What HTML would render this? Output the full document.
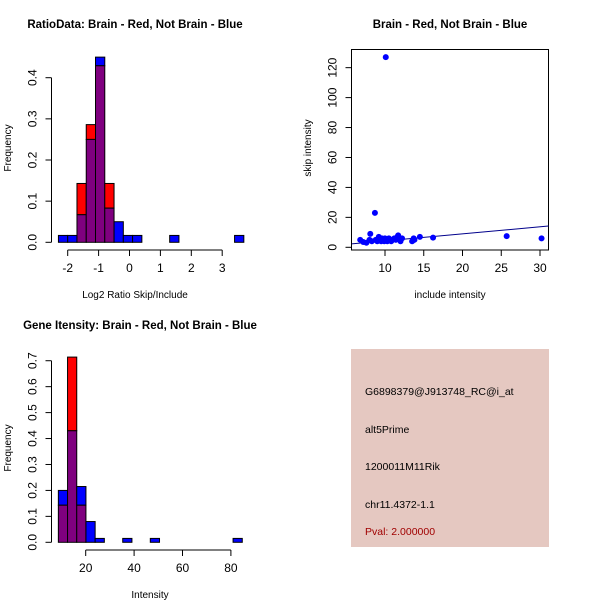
<!DOCTYPE html>
<html><head><meta charset="utf-8"><style>
body{margin:0;background:#fff}
svg{display:block;font-family:"Liberation Sans",sans-serif}
</style></head><body>
<svg id="c" width="600" height="600"></svg>
<script>
// Plot 1 data: log2 ratio histograms
const ratioBinStart = -2.3, ratioBinWidth = 0.3;
const ratioBlue = [0.0167,0.0167,0.067,0.25,0.45,0.083,0.05,0.0167,0.0167,0,0,0,0.0167,0,0,0,0,0,0,0.0167];
const ratioRed  = [0,0,0.143,0.286,0.429,0.143,0,0,0,0,0,0,0,0,0,0,0,0,0,0];
const ratioXTicks = [-2,-1,0,1,2,3];
const ratioYTicks = [0.0,0.1,0.2,0.3,0.4];
// Plot 2 data: scatter
const includeVals = [6.8,7.2,7.6,8,8.1,8.3,8.7,8.8,9,9.2,9.3,9.5,9.6,9.8,9.9,10,10.1,10.2,10.3,10.5,10.6,10.8,11,11.2,11.4,11.6,11.7,11.9,12,12.2,13.5,13.7,13.8,14.5,16.2,25.7,30.2];
const skipVals    = [5,3.5,3,5,9,4,23,5,4,7,5,4,6,5,4,6,127,5,4,6,5,4,5,6,5,7,8,5,4,6,4,6,5,7,6.5,7.5,6];
const fitLine = [-0.4,0.47]; // intercept, slope
const scatXTicks = [10,15,20,25,30];
const scatYTicks = [0,20,40,60,80,100,120];
// Plot 3 data: intensity histograms
const intBinStart = 8.7, intBinWidth = 3.8;
const intBlue = [0.2,0.43,0.215,0.08,0.015,0,0,0.015,0,0,0.015,0,0,0,0,0,0,0,0,0.015];
const intRed  = [0.143,0.714,0.143,0,0,0,0,0,0,0,0,0,0,0,0,0,0,0,0,0];
const intXTicks = [20,40,60,80];
const intYTicks = [0.0,0.1,0.2,0.3,0.4,0.5,0.6,0.7];

const NS="http://www.w3.org/2000/svg", svg=document.getElementById('c');
function mk(t,a,p){const e=document.createElementNS(NS,t);for(const k in a)e.setAttribute(k,a[k]);(p||svg).appendChild(e);return e;}
function txt(s,x,y,o,p){const e=mk('text',Object.assign({x:x,y:y,'font-size':12,'text-anchor':'middle',fill:'#000'},o||{}),p);e.textContent=s;return e;}

function hist(g,start,w,blue,red,sx,sy){
  for(let i=0;i<blue.length;i++){
    const x0=sx(start+i*w),x1=sx(start+(i+1)*w),b=blue[i],r=red[i],m=Math.min(b,r),M=Math.max(b,r);
    if(M<=0)continue;
    if(M>m){const e=mk('rect',{x:x0,y:sy(M),width:x1-x0,height:sy(m)-sy(M),fill:b>r?'#0000ff':'#ff0000',stroke:'#000','stroke-width':1},g);
      }
    if(m>0){const e=mk('rect',{x:x0,y:sy(m),width:x1-x0,height:sy(0)-sy(m),fill:'#7f007f',stroke:'#000','stroke-width':1},g);
      }
  }
}
function yaxis(g,ticks,sy,x,fmt){
  mk('line',{x1:x,x2:x,y1:sy(ticks[0]),y2:sy(ticks[ticks.length-1]),stroke:'#000'},g);
  ticks.forEach(t=>{mk('line',{x1:x-6,x2:x,y1:sy(t),y2:sy(t),stroke:'#000'},g);
    txt(fmt(t),0,0,{transform:`translate(${x-15},${sy(t)}) rotate(-90)`},g);});
}
function xaxis(g,ticks,sx,y){
  mk('line',{x1:sx(ticks[0]),x2:sx(ticks[ticks.length-1]),y1:y,y2:y,stroke:'#000'},g);
  ticks.forEach(t=>{mk('line',{x1:sx(t),x2:sx(t),y1:y,y2:y+6,stroke:'#000'},g);txt(String(t),sx(t),y+22,{},g);});
}

// Plot 1
{const g=mk('g',{});
 const sx=v=>98.6+(v+1)*30.9, sy=v=>242.3-v*411.5;
 hist(g,ratioBinStart,ratioBinWidth,ratioBlue,ratioRed,sx,sy);
 yaxis(g,ratioYTicks,sy,51.5,t=>t.toFixed(1));xaxis(g,ratioXTicks,sx,250);
 const t=txt('RatioData: Brain - Red, Not Brain - Blue',135,28,{'font-weight':'bold','font-size':11.5},g);
 txt('Log2 Ratio Skip/Include',135,298,{'font-size':10},g);
 txt('Frequency',0,0,{'font-size':10,transform:'translate(11,148) rotate(-90)'},g);}
// Plot 2
{const g=mk('g',{});
 const sx=v=>385+(v-10)*7.75, sy=v=>247.3-v*1.497;
 mk('rect',{x:351.5,y:49.5,width:197,height:200.5,fill:'none',stroke:'#000'},g);
 const L=mk('line',{x1:351.5,x2:548.5,y1:sy(fitLine[0]+fitLine[1]*((351.5-385)/7.75+10)),y2:sy(fitLine[0]+fitLine[1]*((548.5-385)/7.75+10)),stroke:'#00008b'},g);
 
 includeVals.forEach((v,i)=>{const c=mk('circle',{cx:sx(v),cy:sy(skipVals[i]),r:3,fill:'#0000ff'},g);
   });
 yaxis(g,scatYTicks,sy,351.5,t=>String(t));xaxis(g,scatXTicks,sx,250);
 const t=txt('Brain - Red, Not Brain - Blue',450,28,{'font-weight':'bold','font-size':11.5},g);
 txt('include intensity',450,298,{'font-size':10},g);
 txt('skip intensity',0,0,{'font-size':10,transform:'translate(311,148) rotate(-90)'},g);}
// Plot 3
{const g=mk('g',{});
 const sx=v=>85.7+(v-20)*2.42, sy=v=>542.3-v*259.4;
 hist(g,intBinStart,intBinWidth,intBlue,intRed,sx,sy);
 yaxis(g,intYTicks,sy,51.5,t=>t.toFixed(1));xaxis(g,intXTicks,sx,550);
 const t=txt('Gene Itensity: Brain - Red, Not Brain - Blue',140,329,{'font-weight':'bold','font-size':11.5},g);
 txt('Intensity',150,598,{'font-size':10},g);
 txt('Frequency',0,0,{'font-size':10,transform:'translate(11,448) rotate(-90)'},g);}
</script>
<div style="position:absolute;left:351px;top:349px;width:198px;height:198px;background:#e5c8c1;font-family:'Liberation Sans',sans-serif;font-size:10.5px;color:#000">
<div style="position:absolute;left:14px;top:37px">G6898379@J913748_RC@i_at</div>
<div style="position:absolute;left:14px;top:75px">alt5Prime</div>
<div style="position:absolute;left:14px;top:112px">1200011M11Rik</div>
<div style="position:absolute;left:14px;top:150px">chr11.4372-1.1</div>
<div style="position:absolute;left:14px;top:177px;color:#a00000">Pval: 2.000000</div>
</div>
</body></html>
